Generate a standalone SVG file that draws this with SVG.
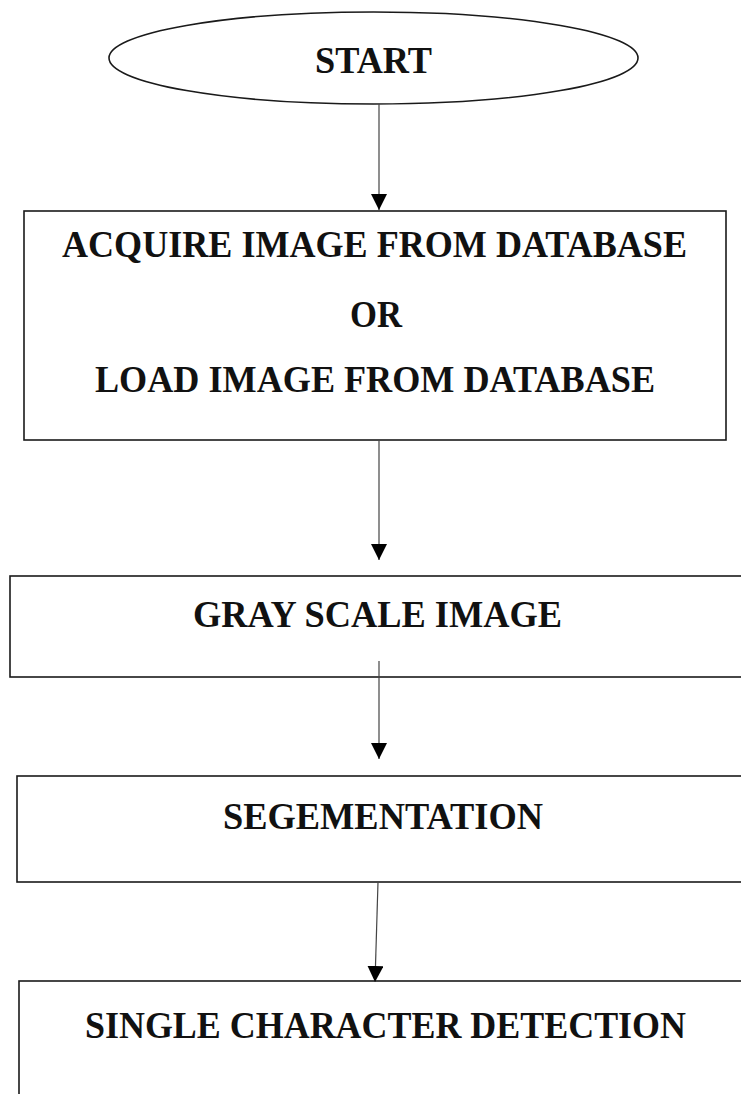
<svg xmlns="http://www.w3.org/2000/svg" width="741" height="1094" viewBox="0 0 741 1094">
<style>
.box{fill:#fff;stroke:#1a1a1a;stroke-width:1.6}
.lbl{font-family:"Liberation Serif","Times New Roman",serif;font-weight:bold;font-size:38px;fill:#111;text-anchor:middle}
.conn{stroke:#444;stroke-width:1.2;fill:none;marker-end:url(#ah)}
</style>
<defs>
<marker id="ah" markerUnits="userSpaceOnUse" markerWidth="16" markerHeight="16" refX="16" refY="8" orient="auto" viewBox="0 0 16 16">
<path d="M0,0 L16,8 L0,16 z" fill="#000"/>
</marker>
</defs>
<rect width="741" height="1094" fill="#fff"/>
<g id="start">
<ellipse class="box" cx="373.5" cy="58" rx="264.5" ry="46"/>
<text class="lbl" x="373.5" y="73" textLength="117" lengthAdjust="spacingAndGlyphs">START</text>
</g>
<g id="acquire">
<rect class="box" x="24" y="211" width="702" height="229"/>
<text class="lbl" x="374.5" y="257" textLength="625" lengthAdjust="spacingAndGlyphs">ACQUIRE IMAGE FROM DATABASE</text>
<text class="lbl" x="376" y="327" textLength="52" lengthAdjust="spacingAndGlyphs">OR</text>
<text class="lbl" x="375" y="392" textLength="560" lengthAdjust="spacingAndGlyphs">LOAD IMAGE FROM DATABASE</text>
</g>
<g id="gray">
<rect class="box" x="10" y="576" width="745" height="101"/>
<text class="lbl" x="377.5" y="627" textLength="369" lengthAdjust="spacingAndGlyphs">GRAY SCALE IMAGE</text>
</g>
<g id="seg">
<rect class="box" x="17" y="776" width="740" height="106"/>
<text class="lbl" x="383" y="829" textLength="320" lengthAdjust="spacingAndGlyphs">SEGEMENTATION</text>
</g>
<g id="single">
<rect class="box" x="19" y="981" width="740" height="200"/>
<text class="lbl" x="385.5" y="1038" textLength="601" lengthAdjust="spacingAndGlyphs">SINGLE CHARACTER DETECTION</text>
</g>
<g id="connectors">
<line class="conn" x1="379" y1="104" x2="379" y2="210"/>
<line class="conn" x1="379" y1="441" x2="379" y2="560"/>
<line class="conn" x1="379" y1="661" x2="379" y2="759"/>
<line class="conn" x1="378" y1="882" x2="375" y2="982"/>
</g>
</svg>
